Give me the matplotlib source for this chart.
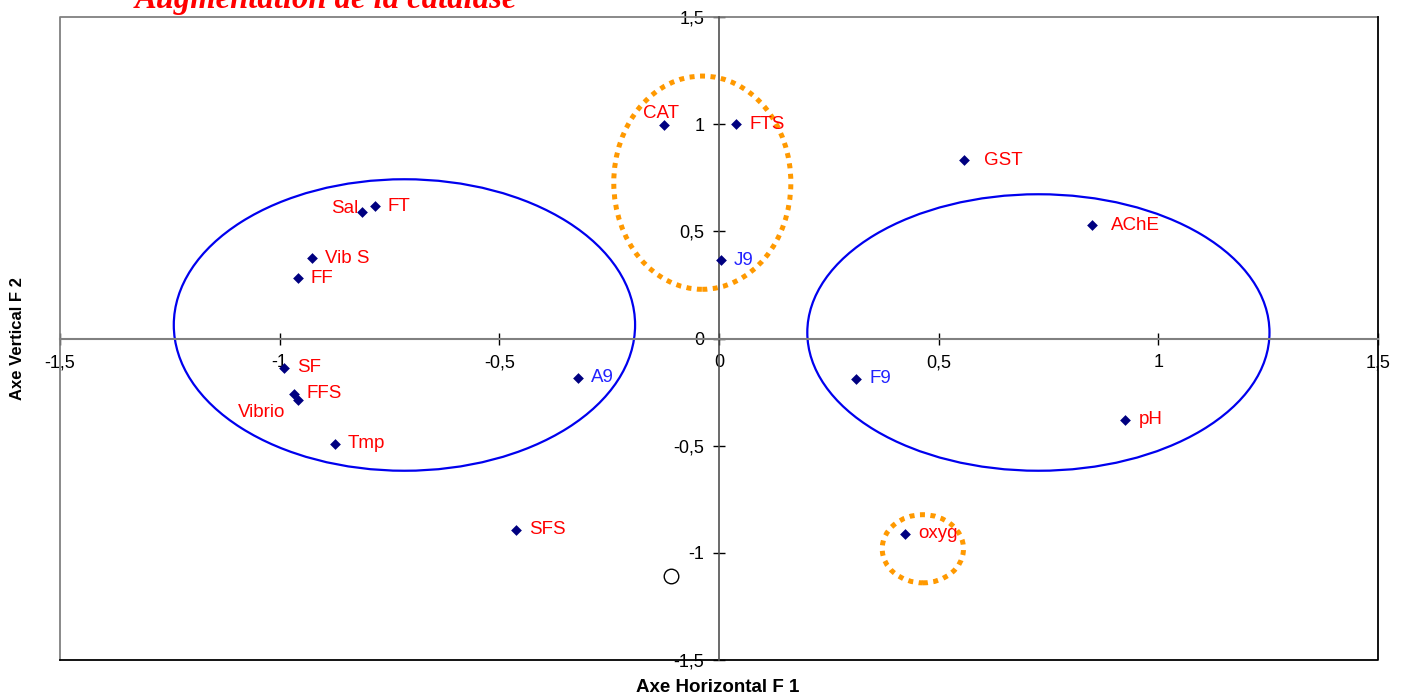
import matplotlib
matplotlib.use("Agg")
import matplotlib.pyplot as plt
from matplotlib.patches import Ellipse

# ---- data ----
labels = ["CAT", "FTS", "GST", "AChE", "J9", "Sal", "FT", "Vib S", "FF", "SF",
          "FFS", "Vibrio", "Tmp", "A9", "F9", "pH", "SFS", "oxyg"]
x_vals = [-0.125, 0.039, 0.558, 0.850, 0.005, -0.813, -0.784, -0.927, -0.959, -0.991,
          -0.968, -0.959, -0.875, -0.321, 0.312, 0.925, -0.462, 0.424]
y_vals = [0.995, 1.000, 0.832, 0.528, 0.364, 0.589, 0.617, 0.374, 0.280, -0.136,
          -0.257, -0.285, -0.491, -0.182, -0.187, -0.379, -0.893, -0.911]
blue_labels = ["J9", "A9", "F9"]
extra_point = (-0.109, -1.11)

x_ticks = [-1.5, -1.0, -0.5, 0.0, 0.5, 1.0, 1.5]
x_tick_labels = ["-1,5", "-1", "-0,5", "0", "0,5", "1", "1,5"]
y_ticks = [-1.5, -1.0, -0.5, 0.0, 0.5, 1.0, 1.5]
y_tick_labels = ["-1,5", "-1", "-0,5", "0", "0,5", "1", "1,5"]

# groups: (center x, center y, width, height)
blue_groups = [(-0.716, 0.063, 1.050, 1.36), (0.727, 0.028, 1.052, 1.29)]
orange_groups = [(-0.038, 0.727, 0.403, 0.995), (0.464, -0.981, 0.185, 0.318)]

title = "Augmentation de la catalase"
x_label = "Axe Horizontal F 1"
y_label = "Axe Vertical F 2"

# ---- layout / style ----
W, H = 1405, 697
fig = plt.figure(figsize=(W / 100, H / 100), dpi=100)
ax = fig.add_axes([60 / W, (H - 660) / H, (1378 - 60) / W, (660 - 17) / H])
ax.set_xlim(-1.5, 1.5)
ax.set_ylim(-1.5, 1.5)

font = "Liberation Sans"

ax.spines["left"].set_position(("data", 0))
ax.spines["bottom"].set_position(("data", 0))
ax.spines["left"].set_color("#505050")
ax.spines["bottom"].set_color("#808080")
ax.spines["left"].set_linewidth(1.2)
ax.spines["bottom"].set_linewidth(1.5)
ax.spines["top"].set_visible(False)
ax.spines["right"].set_visible(False)

# frame
ax.plot([0, 0, 1], [0, 1, 1], transform=ax.transAxes, color="#808080", lw=1.3, clip_on=False)
ax.plot([0, 1, 1], [0, 0, 1], transform=ax.transAxes, color="black", lw=1.3, clip_on=False)

ax.set_xticks(x_ticks)
ax.set_xticklabels(x_tick_labels, fontfamily=font, fontsize=13)
ax.set_yticks(y_ticks)
ax.set_yticklabels(y_tick_labels, fontfamily=font, fontsize=13)
ax.tick_params(axis="both", direction="inout", length=9, width=1, color="black", pad=6)
ax.tick_params(axis="x", pad=7)

for (cx, cy, w, h) in blue_groups:
    ax.add_patch(Ellipse((cx, cy), w, h, fill=False, edgecolor="#0000EE", lw=1.6, zorder=2))
for (cx, cy, w, h) in orange_groups:
    e = Ellipse((cx, cy), w, h, fill=False, edgecolor="#FF9900", lw=3.6,
                linestyle=(0, (1, 1.1)), zorder=2)
    e.set_capstyle("butt")
    ax.add_patch(e)

ax.scatter(x_vals, y_vals, marker="D", s=30, color="#000080", zorder=4, linewidths=0)
ax.scatter([extra_point[0]], [extra_point[1]], marker="o", s=110, facecolor="white",
           edgecolor="black", linewidths=1.0, zorder=4)

offsets = {"CAT": (-3, 12, "center"), "Sal": (-3, 4, "right"), "Vibrio": (-12, -13, "right"),
           "GST": (20, 0, "left"), "AChE": (19, 0, "left")}
for lab, xv, yv in zip(labels, x_vals, y_vals):
    dx, dy, ha = offsets.get(lab, (13, 0, "left"))
    col = "#2222FF" if lab in blue_labels else "#FF0000"
    ax.annotate(lab, (xv, yv), xytext=(dx, dy), textcoords="offset pixels",
                ha=ha, va="center", fontsize=13.5, fontfamily=font, color=col, zorder=5)

fig.text(718 / W, 1 - 688 / H, x_label, ha="center", va="center", fontsize=13.5,
         fontweight="bold", fontfamily=font)
fig.text(18 / W, 1 - 339 / H, y_label, ha="center", va="center", rotation=90,
         fontsize=12, fontweight="bold", fontfamily=font)
fig.text(135 / W, 1 - 8 / H, title, ha="left", va="baseline", fontsize=23.5,
         fontweight="bold", fontstyle="italic", fontfamily="Liberation Serif", color="#FF0000")

fig.savefig("out.png", dpi=100)
